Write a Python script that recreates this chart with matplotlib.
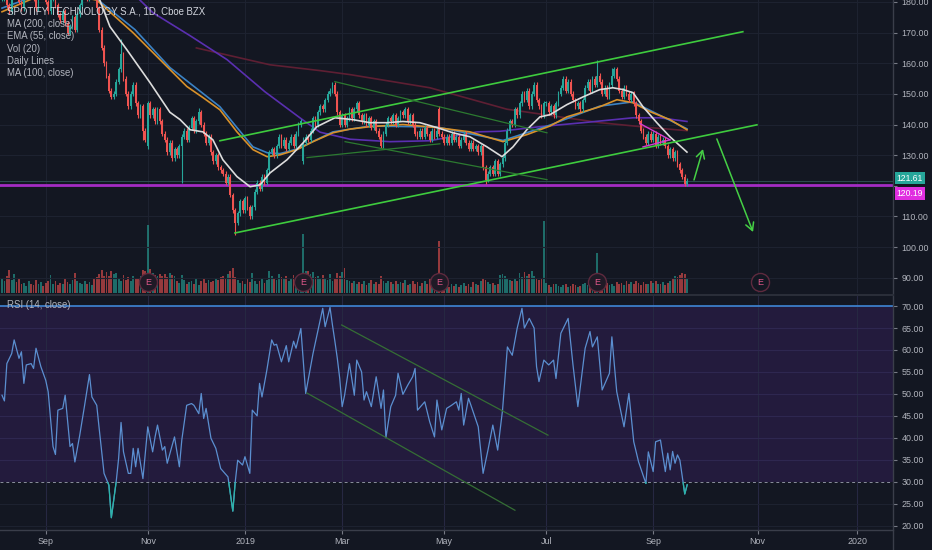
import numpy as np
import pandas as pd
import matplotlib
matplotlib.use("Agg")
import matplotlib.pyplot as plt
from matplotlib.patches import Rectangle
from matplotlib.lines import Line2D
from matplotlib.transforms import blended_transform_factory

plt.rcParams['font.family'] = ['Liberation Sans', 'DejaVu Sans']

# ---- calendar ----
first_day = '2018-08-08'
holidays = ['2018-09-03', '2018-11-22', '2018-12-05', '2018-12-25', '2019-01-01',
            '2019-01-21', '2019-02-18', '2019-04-19', '2019-05-27', '2019-07-04',
            '2019-09-02', '2019-11-28', '2019-12-25', '2020-01-01']
month_ticks = ['2018-09-01', '2018-11-01', '2019-01-01', '2019-03-01', '2019-05-01',
               '2019-07-01', '2019-09-01', '2019-11-01', '2020-01-01']
month_labels = ['Sep', 'Nov', '2019', 'Mar', 'May', 'Jul', 'Sep', 'Nov', '2020']
earnings = ['2018-11-01', '2019-02-06', '2019-04-29', '2019-07-31', '2019-11-04']

# ---- daily closes (SPOT) ----
closes = [
    181, 184, 179, 177, 182, 186, 183, 180, 178, 183,
    186, 189, 185, 181, 178, 182, 187, 184,
    180, 177, 181, 184, 179, 176, 174, 177,
    173, 170, 172, 175, 171, 176,
    179, 182, 185, 181, 184, 188, 184,
    178, 171, 165, 160, 156, 151, 149,
    150, 154, 158, 163, 155,
    150, 146,
    150, 153, 147, 143,
    146, 138, 135, 147, 143, 145, 141,
    145, 141, 137,
    135, 131, 134, 129, 132, 130, 133,
    136,
    138, 135, 139, 142, 138, 141,
    144, 140,
    137, 134, 136, 131, 128,
    130, 126, 125,
    124, 121, 123,
    117, 112, 108,
    111,
    115, 112, 116, 113,
    110, 113,
    118, 121, 119,
    123, 121, 125,
    131, 132,
    130, 133, 136,
    133, 135, 132, 134, 136, 133,
    137, 140, 141, 134,
    136, 135,
    138, 142, 140, 144,
    146, 145, 148, 150,
    151, 153, 150,
    144, 140, 143,
    140, 142, 145, 142,
    145, 147, 143, 141,
    143, 140, 142, 139, 141,
    138, 136, 133, 137,
    140, 142, 141, 143, 140,
    142, 144, 143, 145, 141, 143,
    140, 137, 136, 138,
    136, 139, 137, 135, 138,
    136, 138, 137, 136, 134,
    136, 134, 137, 135,
    136, 133, 135, 137, 134, 132,
    134, 132, 133,
    131, 133,
    126, 122,
    124, 126, 124, 128, 124, 127,
    129, 134,
    138, 141, 140, 145,
    143, 147, 150, 148,
    151, 146, 150, 153,
    148, 146, 143, 147, 147, 144, 146,
    143, 147, 150,
    152, 155, 151, 154, 150, 148,
    146, 147, 145, 148,
    152, 154, 151, 155, 153, 156, 154,
    150, 152, 149, 153,
    156, 158, 155,
    151, 149, 152, 150,
    148, 150, 147,
    143, 141, 138,
    136, 134, 137,
    135, 137, 133, 136, 134, 135, 133,
    130, 132, 129, 131,
    127, 125, 123,
    120.6, 121.61,
]
open_gaps = {60: 133, 124: 128, 180: 145}
high_marks = {49: 168, 81: 145.5, 124: 136, 137: 154, 180: 146, 245: 161, 251: 158.5}
low_marks = {58: 135, 60: 132, 74: 121, 96: 104, 199: 120.6, 282: 119.8}

# volume, millions of shares
volume = [
    2.0, 1.6, 2.4, 3.2, 1.8, 2.6, 1.5, 1.9,
    1.2, 1.4, 1.0, 1.6, 1.3, 1.1, 1.8, 1.2, 1.5, 1.0, 1.4, 1.7,
    2.5, 1.3, 1.6, 1.1, 1.4, 1.2, 1.9, 1.5, 1.3, 1.8,
    2.8, 1.6, 1.4, 1.2, 1.7, 1.3, 1.5, 1.1, 1.9, 2.2, 2.6,
    3.2, 2.4, 2.9, 2.3, 3.0, 2.6, 2.8,
    2.0, 1.7, 2.5, 1.8, 2.2, 1.6, 2.4, 1.9, 2.1, 2.3,
    3.2, 3.0, 9.4, 3.3,
    2.8, 2.5, 2.3, 2.7, 2.4, 2.6, 2.2, 2.8, 2.5, 2.3,
    1.6, 1.4, 2.5, 1.8, 1.2, 1.5, 1.7, 1.3, 1.9, 1.1, 1.6, 2.0, 1.4, 1.8, 1.5, 1.7,
    2.0, 1.8, 2.2, 2.4, 2.1, 2.6, 3.0, 3.5,
    2.2, 1.8, 1.4, 1.6, 1.2, 1.9, 1.5, 2.8, 1.7, 1.3, 1.6, 2.0, 1.4, 1.8,
    3.0, 2.4, 2.1, 1.8, 2.6, 2.2, 1.9, 2.3, 1.7, 2.0, 2.5,
    1.8, 2.1, 1.6, 8.2,
    3.0,
    3.0, 2.6, 2.9, 2.2, 2.4, 1.9, 2.5, 2.1, 1.8, 2.7, 1.6, 2.0, 2.8, 2.3, 2.9,
    3.5,
    1.8, 1.6, 1.4, 1.7, 1.2, 1.5, 1.3, 1.6, 1.1, 1.4, 1.8, 1.3, 1.5, 1.2,
    2.3,
    1.6, 1.4, 1.7, 1.5, 1.3, 1.6, 1.2, 1.5, 1.4, 1.8, 1.1, 1.3, 1.6, 1.2, 1.5, 1.0,
    1.4, 1.7, 1.3, 1.9, 1.6, 2.0, 2.4,
    7.2,
    2.4, 1.4, 1.1, 0.9, 1.2, 1.0, 1.3, 0.8, 1.1, 1.4, 1.0, 1.2, 0.9, 1.5, 1.3, 1.1,
    1.6, 2.0, 1.8, 1.5, 1.2, 1.4, 1.1, 1.3,
    2.5, 2.6, 2.3, 2.1, 1.8, 1.6, 2.0, 1.7,
    2.8, 2.2, 2.9, 2.4, 2.6, 3.0, 2.3, 2.1, 1.8, 2.0,
    10.0,
    1.4, 1.1, 0.9, 1.2, 1.3, 1.0, 0.8, 1.1, 1.2, 0.9, 1.0, 1.3, 1.1, 0.8, 1.0, 1.2,
    1.4, 1.1, 0.9, 1.3, 2.0,
    5.6,
    2.5, 1.6, 1.2, 1.4, 1.1, 1.3, 1.0, 1.5, 1.2, 1.4, 1.1, 1.6, 1.3, 1.5, 1.2, 1.6,
    1.4, 1.1, 1.5, 1.3, 1.2, 1.6, 1.4, 1.7, 1.3, 1.2, 1.5, 1.1, 1.4, 1.6,
    2.1, 2.4, 2.2, 2.5, 2.8, 2.6, 1.9,
]

# ---- indicator lines (bar index, value) ----
fast_ma_idx = [38, 40.3, 44.4, 51.4, 60.9, 69.1, 73.3, 77.4, 82.7, 86.8, 90.9, 96.7, 102.1,
               106.2, 110.3, 117.3, 123.9, 129.6, 137, 144.4, 151.4, 158.4, 165, 172, 179,
               185.6, 192.6, 199.6, 205.8, 210.3, 216, 221.4, 225.5, 232.5, 239.1, 246,
               251.4, 255.6, 259.7, 263.8, 269.5, 274.9, 281.9]
fast_ma_val = [183, 180.5, 172, 164.4, 153.7, 144, 141.6, 138.3, 137.6, 135, 128.5, 123, 119.7,
               120.3, 124.2, 128.5, 134, 139.3, 142.2, 141.6, 140.6, 140.6, 141, 140.6, 139,
               137.3, 136, 132.7, 129.5, 132.7, 138.3, 142.5, 143.2, 146.5, 149, 151.4,
               152, 151.4, 150.4, 145.8, 140.6, 136, 131]

ema55_idx = [0, 12, 25, 39, 53.9, 67.9, 76.1, 82.7, 89.7, 96.7, 103.3, 109.1, 114.4, 121.4,
             128, 136.2, 143.2, 151.4, 165, 179, 192.6, 206.2, 216, 225.5, 232.5, 246,
             253.1, 259.7, 266.7, 274.9, 281.9]
ema55_val = [176.8, 180.9, 183, 180.6, 170, 158.9, 152.4, 148.8, 144.8, 137.6, 131.8, 129.5,
             130.1, 131.8, 134.4, 137.3, 138.5, 139.3, 140, 139, 137.6, 134.4, 136.7, 139.5,
             142.5, 145.8, 148.1, 147.1, 144.2, 141.6, 138.3]

ema50_idx = [0, 10, 25, 39, 54.7, 69.1, 89.7, 96.7, 103.3, 109.1, 114.4, 121.4, 136.2,
             151.4, 179, 206.2, 225.5, 246, 259.7, 281.9]
ema50_val = [178, 180.9, 183.5, 181, 171, 158.6, 145.8, 139, 132.7, 130.8, 130.5, 132,
             137.6, 139.5, 139.2, 134.8, 139.8, 146, 147.4, 138.6]

ma100_idx = [55, 62.1, 77.4, 92.6, 108.2, 122.6, 130.9, 143.2, 159.7, 176.1, 195.5, 204.9,
             221.4, 239.1, 259.7, 270.8, 281.9]
ma100_val = [182, 176.5, 169, 161.2, 150.7, 142.2, 137.5, 135.2, 134.4, 134.7, 137.6, 137.8,
             139.3, 140.6, 142.2, 142.2, 141]

ma200_idx = [80, 110.3, 130.9, 143.2, 176.1, 207.8, 229.6, 246.1, 266.7, 281.9]
ma200_val = [165, 159.5, 157.6, 156.3, 152, 145, 142.5, 140.6, 139, 138]

rsi_idx = [0, 1, 2, 4, 5, 7, 8, 9, 10, 12, 13, 14, 16, 18, 19, 21, 22, 23, 25, 26, 28, 29,
           30, 32, 34, 36, 37, 39, 40, 42, 44, 45, 47, 48, 49, 50, 52, 53, 54, 55, 56, 58,
           60, 62, 63, 64, 66, 67, 68, 71, 73, 74, 76, 78, 79, 81, 82, 83, 84, 86, 88, 90,
           93, 95, 96, 97, 99, 100, 102, 103, 105, 106, 107, 109, 111, 112, 113, 115, 117,
           118, 120, 121, 123, 125, 128, 132, 133, 135, 136, 137, 138, 139, 140, 141, 143,
           145, 146, 148, 149, 150, 152, 154, 156, 157, 158, 160, 162, 163, 165, 167, 169,
           170, 171, 174, 176, 178, 179, 181, 183, 185, 187, 188, 189, 190, 192, 193, 196,
           198, 200, 202, 204, 206, 208, 210, 212, 214, 215, 217, 219, 220, 221, 223, 225,
           227, 228, 230, 233, 235, 237, 240, 242, 243, 245, 247, 250, 251, 253, 256, 258,
           260, 262, 265, 266, 268, 269, 271, 273, 274, 275, 276, 277, 278, 279, 281, 282]
rsi_val = [49.7, 48.4, 56.9, 59.2, 62.3, 58.1, 59.6, 52.4, 56.6, 56.9, 55.8, 60.4, 56.2, 53.1,
           50.5, 38.0, 36.2, 46.3, 46.7, 49.7, 38.0, 38.7, 34.5, 40.6, 47.4, 54.4, 49.3, 47.4,
           42.1, 31.9, 29.2, 21.8, 30.0, 35.3, 43.5, 36.8, 31.9, 31.9, 37.6, 33.4, 37.6, 30.7,
           42.5, 36.8, 40.2, 42.9, 37.2, 38.0, 34.2, 40.2, 33.4, 39.5, 47.4, 47.8, 47.4, 45.5,
           50.1, 44.4, 46.7, 39.9, 37.6, 33.0, 31.1, 23.3, 30.0, 34.9, 33.8, 35.7, 31.9, 46.3,
           45.0, 52.4, 49.3, 55.4, 62.3, 61.1, 61.3, 57.3, 61.0, 57.3, 62.0, 60.4, 64.9, 50.1,
           59.2, 69.5, 65.3, 69.7, 65.7, 62.0, 58.1, 53.5, 47.1, 49.7, 56.9, 49.7, 57.7, 55.0,
           48.6, 50.5, 47.1, 53.9, 46.7, 50.9, 40.0, 47.1, 49.7, 54.7, 49.9, 52.0, 53.9, 55.8,
           46.3, 48.2, 43.7, 40.2, 48.6, 41.8, 46.7, 47.4, 48.2, 46.3, 50.1, 42.9, 49.0, 47.4,
           42.5, 31.9, 37.2, 42.9, 37.2, 46.3, 60.7, 58.8, 64.9, 69.5, 65.0, 67.2, 65.0, 56.2,
           52.8, 57.7, 56.6, 57.7, 53.5, 63.8, 67.2, 56.6, 47.1, 60.4, 64.2, 60.7, 63.0, 50.9,
           54.7, 63.0, 50.5, 42.5, 50.1, 39.1, 34.5, 29.6, 36.8, 32.3, 39.1, 39.5, 32.3, 36.5,
           32.7, 36.9, 34.2, 36.1, 34.9, 27.2, 29.3]

# ---- drawings (bar index, price) ----
channel_top = [(89.7, 134.7), (304.9, 170.3)]
channel_bottom = [(95.9, 104.6), (310.7, 139.9)]
flag_top = [(137.0, 154.0), (224.3, 137.3)]
flag_bottom = [(141.2, 134.4), (224.3, 122.0)]
base_line = [(125.5, 129.2), (180.2, 133.7)]
pennant = [[(262.6, 140.3), (274.9, 135.0)], [(263.8, 132.7), (274.9, 135.0)]]
arrow_up = [(284.8, 121.9), (288.5, 132.0)]
arrow_down = [(294.2, 135.3), (309.1, 104.9)]
rsi_top_line = [(139.8, 65.7), (224.7, 40.6)]
rsi_bottom_line = [(125.5, 50.2), (211.1, 23.5)]
support_level = 120.19
last_close = 121.61

# ---- styling ----
BG = '#131722'
GRID = '#1d2230'
TXT = '#b2b5be'
UP, DOWN = '#26a69a', '#ef5350'
W, H = 932, 550

days = pd.bdate_range(first_day, '2020-03-31')
days = days[~days.isin(pd.to_datetime(holidays))]
tick_pos = [int(np.searchsorted(days, pd.Timestamp(d))) for d in month_ticks]
earn_pos = [int(np.searchsorted(days, pd.Timestamp(d))) for d in earnings]

n = len(closes)
xs = np.arange(n)
c = np.array(closes, float)
o = np.r_[c[0], c[:-1]]
for k, v in open_gaps.items():
    o[k] = v
hi = np.maximum(o, c) + 0.8
lo = np.minimum(o, c) - 0.8
for k, v in high_marks.items():
    hi[k] = v
for k, v in low_marks.items():
    lo[k] = v
up = c >= o
cols = np.where(up, UP, DOWN)

fig = plt.figure(figsize=(W / 100, H / 100), dpi=100, facecolor=BG)
pw = 893 / W
rect_main = [0, 1 - 293 / H, pw, 293 / H]
rect_rsi = [0, 20 / H, pw, 234 / H]
xlim = (-0.82, 366.7)

axv = fig.add_axes(rect_main)
axv.set_zorder(0)
ax = fig.add_axes(rect_main, sharex=axv)
ax.set_zorder(1)
ax.patch.set_alpha(0)
axv.set_facecolor(BG)

# volume
axv.bar(xs, volume, width=0.74, color=cols, alpha=0.6, lw=0)
axv.set_ylim(0, 40.7)
axv.set_yticks([])
for s in axv.spines.values():
    s.set_visible(False)
axv.tick_params(bottom=False, labelbottom=False)

# grid
for t in tick_pos:
    axv.axvline(t, color=GRID, lw=0.8, zorder=0)
for p in range(90, 181, 10):
    ax.axhline(p, color=GRID, lw=0.8, zorder=0)

# moving averages
ax.plot(ma200_idx, ma200_val, color='#5e1f33', lw=1.2, zorder=2)
ax.plot(ma100_idx, ma100_val, color='#5a2fb0', lw=1.2, zorder=2)
ax.plot(ema50_idx, ema50_val, color='#3b82c4', lw=1.2, zorder=2)
ax.plot(ema55_idx, ema55_val, color='#d8912a', lw=1.2, zorder=2)

# candles
ax.vlines(xs, lo, hi, colors=cols, lw=0.8, zorder=3)
ax.bar(xs, np.maximum(np.abs(c - o), 0.25), bottom=np.minimum(o, c), width=0.74,
       color=cols, lw=0, zorder=3)
ax.plot(fast_ma_idx, fast_ma_val, color='#dcdcdc', lw=1.2, zorder=4)

# levels
ax.axhline(last_close, color='#2c4a50', lw=0.8, zorder=1)
ax.axhline(support_level, color='#a32cc4', lw=2.0, zorder=2)

# drawings
bright = '#3ecb3e'
dim = '#2c7a30'
for seg, col, lw in [(channel_top, bright, 1.2), (channel_bottom, bright, 1.2),
                     (flag_top, dim, 0.9), (flag_bottom, dim, 0.9), (base_line, dim, 0.9)]:
    (x0, y0), (x1, y1) = seg
    ax.plot([x0, x1], [y0, y1], color=col, lw=lw, zorder=5)
for seg in pennant:
    (x0, y0), (x1, y1) = seg
    ax.plot([x0, x1], [y0, y1], color='#d43bd4', lw=1.0, zorder=5)
for seg in (arrow_up, arrow_down):
    ax.annotate('', xy=seg[1], xytext=seg[0], zorder=5,
                arrowprops=dict(arrowstyle='->,head_length=0.55,head_width=0.3',
                                color='#45d045', lw=1.1, shrinkA=0, shrinkB=0))

# earnings markers
tr = blended_transform_factory(ax.transData, ax.transAxes)
for k, e in enumerate(earn_pos):
    face = '#1f1a26' if k < 4 else BG
    ax.plot([e], [0.0375], 'o', ms=13, mfc=face, mec='#5e2a3e', mew=1.0,
            transform=tr, clip_on=False, zorder=6)
    ax.text(e, 0.0375, 'E', color='#e0588a', fontsize=6.5, ha='center', va='center',
            transform=tr, zorder=7)

ax.set_xlim(*xlim)
ax.set_ylim(85, 180.65)
ax.yaxis.tick_right()
price_ticks = list(range(90, 181, 10))
ax.set_yticks(price_ticks)
# the 120 label sits under the price tags, as in the source chart
ax.set_yticklabels(['' if p == 120 else f'{p:.2f}' for p in price_ticks])
ax.tick_params(axis='y', colors='#787b86', labelcolor=TXT, labelsize=6.4, length=3, pad=3)
ax.tick_params(axis='x', bottom=False, labelbottom=False)
for s in ax.spines.values():
    s.set_visible(False)

# price tags (second tag pushed down so the two do not overlap)
tag_tr = blended_transform_factory(ax.transAxes, ax.transData)
for val, ypos, bg in [(last_close, 122.5, '#26a69a'), (support_level, 117.5, '#e02ee0')]:
    ax.text(1.004, ypos, f'{val:.2f}', transform=tag_tr,
            color='white', fontsize=6.2, va='center', ha='left', zorder=8, clip_on=False,
            bbox=dict(boxstyle='square,pad=0.2', fc=bg, ec='none'))

# legend texts
legend_lines = ['MA (200, close)', 'EMA (55, close)', 'Vol (20)', 'Daily Lines', 'MA (100, close)']
fig.text(7 / W, 1 - 12 / H, 'SPOTIFY TECHNOLOGY S.A., 1D, Cboe BZX', color='#d1d4dc',
         fontsize=6.9, va='center', ha='left', zorder=10)
for k, s in enumerate(legend_lines):
    fig.text(7 / W, 1 - (24 + 12.3 * k) / H, s, color=TXT, fontsize=6.9, va='center', ha='left')

# ---- RSI panel ----
ax2 = fig.add_axes(rect_rsi)
ax2.set_facecolor(BG)
ax2.axhspan(30, 70, color='#231b3d', lw=0, zorder=0)
for t in tick_pos:
    ax2.axvline(t, color='#262842', lw=0.8, zorder=1)
for r in range(20, 71, 5):
    if 30 < r < 70:
        ax2.axhline(r, color='#2e2750', lw=0.8, zorder=1)
    elif r < 30:
        ax2.axhline(r, color=GRID, lw=0.8, zorder=1)
ax2.axhline(70, color='#3f86d6', lw=1.2, zorder=2)
ax2.axhline(30, color='#8a8f9c', lw=0.7, ls=(0, (3, 3)), zorder=2)
ax2.plot(rsi_idx, rsi_val, color='#5b8fd0', lw=0.9, zorder=3)
low_part, = ax2.plot(rsi_idx, rsi_val, color='#2bb5a8', lw=0.9, zorder=4)
low_part.set_clip_path(Rectangle((-10, 0), 400, 30, transform=ax2.transData))
for seg in (rsi_top_line, rsi_bottom_line):
    (x0, y0), (x1, y1) = seg
    ax2.plot([x0, x1], [y0, y1], color='#356e35', lw=0.9, zorder=3)
ax2.text(7 / (pw * W), 0.96, 'RSI (14, close)', transform=ax2.transAxes, color=TXT,
         fontsize=6.9, va='center', ha='left')

ax2.set_xlim(*xlim)
ax2.set_ylim(19.0, 72.3)
ax2.yaxis.tick_right()
ax2.set_yticks(range(20, 71, 5))
ax2.set_yticklabels([f'{r:.2f}' for r in range(20, 71, 5)])
ax2.set_xticks(tick_pos)
ax2.set_xticklabels(month_labels)
ax2.tick_params(axis='y', colors='#787b86', labelcolor=TXT, labelsize=6.4, length=3, pad=3)
ax2.tick_params(axis='x', colors='#787b86', labelcolor=TXT, labelsize=6.4, length=3, pad=2)
for s in ax2.spines.values():
    s.set_visible(False)

# panel frame lines
fig.add_artist(Line2D([pw, pw], [0, 1], color='#3a3e4a', lw=1.0))
fig.add_artist(Line2D([0, pw], [20 / H, 20 / H], color='#3a3e4a', lw=1.0))
fig.add_artist(Line2D([0, pw], [1 - 294.5 / H, 1 - 294.5 / H], color='#2a2e39', lw=1.5))

fig.savefig('out.png', dpi=100, facecolor=BG)
